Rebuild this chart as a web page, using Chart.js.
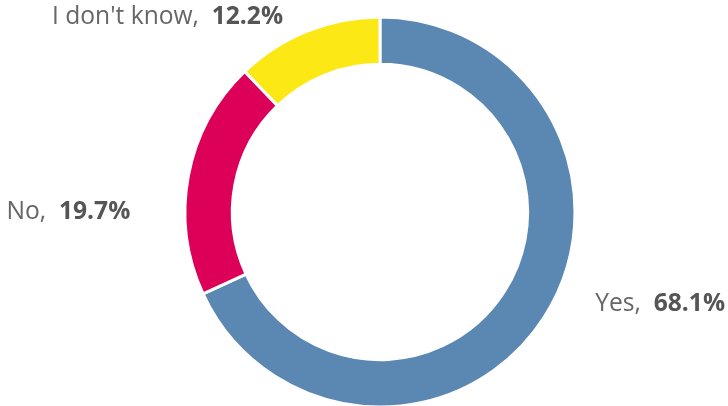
<!DOCTYPE html>
<html>
<head>
<meta charset="utf-8">
<script src="https://cdn.jsdelivr.net/npm/chart.js@4.4.1/dist/chart.umd.min.js"></script>
<style>
  html, body { margin: 0; padding: 0; background: #fff; }
  #wrap { position: relative; width: 728px; height: 406px; }
</style>
</head>
<body>
<div id="wrap"><canvas id="chart"></canvas></div>
<script>
const labels = ['Yes', 'No', "I don't know"];
const values = [68.1, 19.7, 12.2];
const colors = ['#5b87b3', '#dc0059', '#fbe814'];

// nudges for the outside labels, relative to the outer edge of each slice's middle
const labelNudge = [
  { dx: 51, dy: -13 },
  { dx: -58, dy: 36 },
  { dx: -24, dy: -14 },
];

const FONT_SIZE = 24.6;

const outsideLabels = {
  id: 'outsideLabels',
  afterDatasetsDraw(chart) {
    const { ctx } = chart;
    const meta = chart.getDatasetMeta(0);
    meta.data.forEach((arc, i) => {
      const { x, y, startAngle, endAngle, outerRadius } = arc.getProps(
        ['x', 'y', 'startAngle', 'endAngle', 'outerRadius'], true);
      const mid = (startAngle + endAngle) / 2;
      const px = x + Math.cos(mid) * outerRadius + labelNudge[i].dx;
      const py = y + Math.sin(mid) * outerRadius + labelNudge[i].dy;
      const right = Math.cos(mid) >= 0;
      const name = `${labels[i]},  `;
      const val = `${values[i].toFixed(1)}%`;
      ctx.save();
      ctx.textBaseline = 'middle';
      ctx.font = `${FONT_SIZE}px "Open Sans"`;
      const nameW = ctx.measureText(name).width;
      ctx.font = `bold ${FONT_SIZE}px "Open Sans"`;
      const valW = ctx.measureText(val).width;
      const startX = right ? px : px - nameW - valW;
      ctx.textAlign = 'left';
      ctx.font = `${FONT_SIZE}px "Open Sans"`;
      ctx.fillStyle = '#666666';
      ctx.fillText(name, startX, py);
      ctx.font = `bold ${FONT_SIZE}px "Open Sans"`;
      ctx.fillStyle = '#555555';
      ctx.fillText(val, startX + nameW, py);
      ctx.restore();
    });
  },
};

new Chart(document.getElementById('chart'), {
  type: 'doughnut',
  data: {
    labels,
    datasets: [{
      data: values,
      backgroundColor: colors,
      borderColor: '#ffffff',
      borderWidth: 3,
      hoverOffset: 0,
    }],
  },
  options: {
    responsive: true,
    maintainAspectRatio: false,
    animation: false,
    radius: 195,
    cutout: 145,
    layout: { padding: { left: 187, right: 155, top: 19, bottom: 1 } },
    plugins: {
      legend: { display: false },
      tooltip: { enabled: false },
    },
  },
  plugins: [outsideLabels],
});
</script>
</body>
</html>
